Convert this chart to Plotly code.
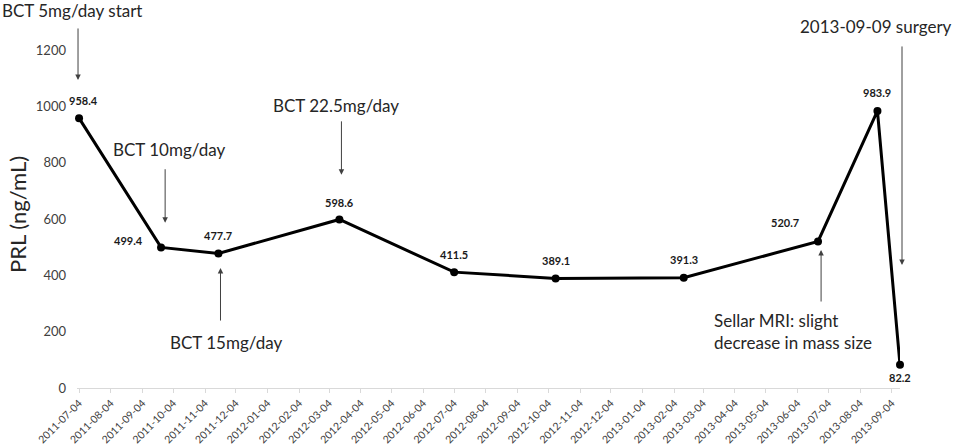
import plotly.graph_objects as go

# PRL measurements
dates = ["2011-07-04", "2011-09-22", "2011-11-17", "2012-03-14", "2012-07-04",
         "2012-10-11", "2013-02-13", "2013-06-24", "2013-08-21", "2013-09-12"]
prl = [958.4, 499.4, 477.7, 598.6, 411.5, 389.1, 391.3, 520.7, 983.9, 82.2]

tick_dates = ["2011-07-04", "2011-08-04", "2011-09-04", "2011-10-04", "2011-11-04",
              "2011-12-04", "2012-01-04", "2012-02-04", "2012-03-04", "2012-04-04",
              "2012-05-04", "2012-06-04", "2012-07-04", "2012-08-04", "2012-09-04",
              "2012-10-04", "2012-11-04", "2012-12-04", "2013-01-04", "2013-02-04",
              "2013-03-04", "2013-04-04", "2013-05-04", "2013-06-04", "2013-07-04",
              "2013-08-04", "2013-09-04"]
y_ticks = [0, 200, 400, 600, 800, 1000, 1200]

# events: text, date the arrow points at, PRL level at arrow tip
event_text = ["BCT 5mg/day start", "BCT 10mg/day", "BCT 15mg/day", "BCT 22.5mg/day",
              "Sellar MRI: slight<br>decrease in mass size", "2013-09-09 surgery"]
event_date = ["2011-07-03", "2011-09-26", "2011-11-19", "2012-03-16",
              "2013-06-27", "2013-09-12"]
event_tip = [1094, 587, 426, 757, 490, 437]

W, H = 957, 447
ML, MR, MT, MB = 77, 57, 0, 59
PW, PH = W - ML - MR, H - MT - MB


def px(x):
    return (x - ML) / PW


def py(y):
    return (H - MB - y) / PH


fig = go.Figure()
fig.add_trace(go.Scatter(x=dates, y=prl, mode="lines+markers",
                         line=dict(color="black", width=3),
                         marker=dict(color="black", size=8),
                         cliponaxis=False, hoverinfo="x+y"))

# value labels (offsets in px)
lab_dx = [4, -33, 0, 0, 0, 0, 0, -33, 0, 0]
lab_dy = [18, 7, 18, 17, 18, 18, 18, 19, 18, -13]
anns = []
for d, v, dx, dy in zip(dates, prl, lab_dx, lab_dy):
    anns.append(dict(x=d, y=v, text="<b>%.1f</b>" % v, showarrow=False,
                     xshift=dx, yshift=dy,
                     font=dict(family="Lato", size=11, color="#1a1a1a")))

# arrows (tail offset in px)
arrow_ay = [-53, -55, 54, -55, 53, -220]
arrow_dx = [0, 0, 0, 0, 0, 2]
for d, t, ay, dx in zip(event_date, event_tip, arrow_ay, arrow_dx):
    anns.append(dict(x=d, y=t, ax=0, ay=ay, text="", showarrow=True,
                     xshift=dx, arrowhead=2, arrowsize=1.1, arrowwidth=1,
                     arrowcolor="#404040"))

# event texts (pixel positions)
txt_pos = [(0, 10, "left"), (169, 150, "center"), (226, 342, "center"),
           (336, 105, "center"), (712, 331, "left"), (876, 27, "center")]
for t, (x, y, anc) in zip(event_text, txt_pos):
    anns.append(dict(x=px(x), y=py(y), xref="paper", yref="paper", text=t,
                     showarrow=False, xanchor=anc, yanchor="middle", align="left",
                     font=dict(family="Lato", size=17, color="#262626")))

anns.append(dict(x=px(17), y=py(215), xref="paper", yref="paper",
                 text="PRL (ng/mL)", textangle=-90, showarrow=False,
                 xanchor="center", yanchor="middle",
                 font=dict(family="Lato", size=22, color="#262626")))

fig.update_layout(
    width=W, height=H,
    margin=dict(l=ML, r=MR, t=MT, b=MB, autoexpand=False),
    paper_bgcolor="white", plot_bgcolor="white",
    showlegend=False,
    font=dict(family="Lato", color="#404040"),
    annotations=anns,
    xaxis=dict(type="date", range=["2011-07-02", "2013-09-12"],
               tickvals=tick_dates, ticktext=tick_dates, tickangle=-45,
               showgrid=False, zeroline=False,
               showline=True, linecolor="#d9d9d9", linewidth=1,
               ticks="outside", ticklen=4, tickcolor="#d9d9d9",
               tickfont=dict(family="Lato", size=10.5, color="#404040")),
    yaxis=dict(range=[0, 1378], tickvals=y_ticks, showgrid=False,
               zeroline=False, showline=False, ticks="",
               ticklabelstandoff=10,
               tickfont=dict(family="Lato", size=13, color="#404040")),
)

# drop the default page margin so the figure sits at the window corner
fig.write_html("out.html", config={"displayModeBar": False},
               post_script="document.body.style.margin='0';")
